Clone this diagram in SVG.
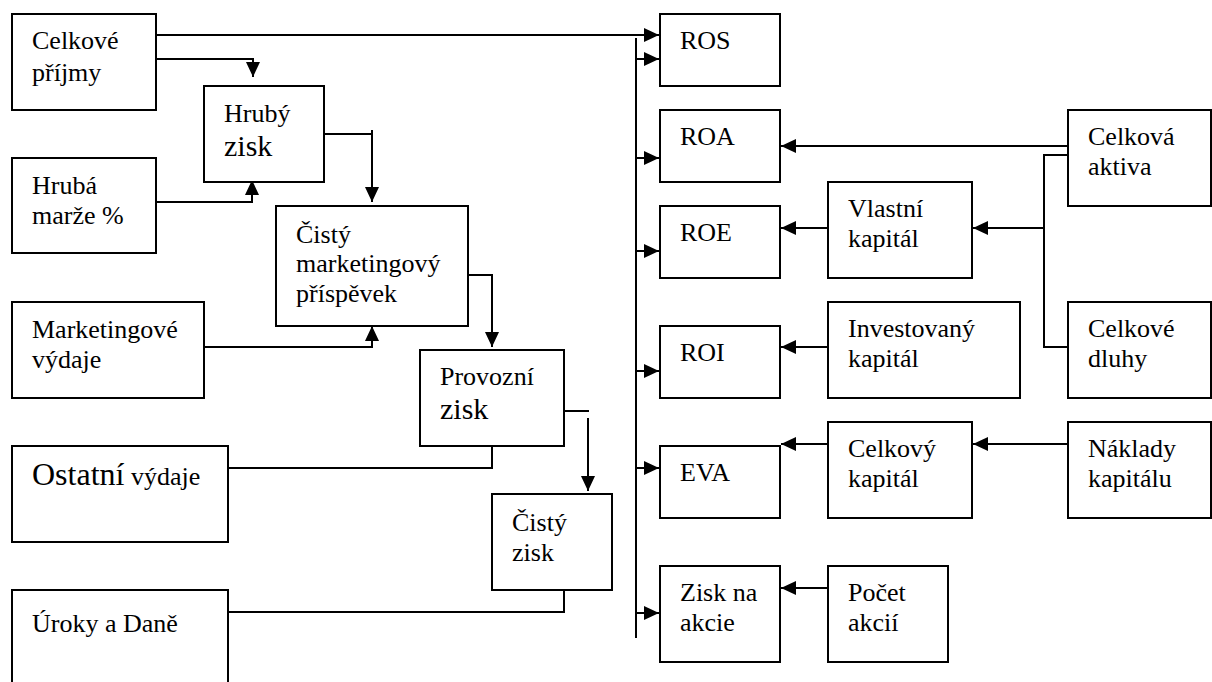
<svg xmlns="http://www.w3.org/2000/svg" width="1212" height="682" viewBox="0 0 1212 682">
<style>
rect{fill:#fff;stroke:#000;stroke-width:2}
text{font-family:'Liberation Serif','Times New Roman','DejaVu Serif',serif;font-size:26px;fill:#000}
.big{font-size:30px}
.os{font-size:32px}
#connectors path{fill:none;stroke:#000;stroke-width:2}
.a{marker-end:url(#arr)}
</style>
<defs>
<marker id="arr" markerUnits="userSpaceOnUse" markerWidth="16" markerHeight="14" refX="15" refY="7" orient="auto">
<path d="M0,0 L15,7 L0,14 z" fill="#000"/>
</marker>
</defs>
<rect x="0" y="0" width="1212" height="682" style="stroke:none"/>
<g id="connectors">
<path class="a" d="M156,35 H659"/>
<path class="a" d="M156,59 H253 V77"/>
<path class="a" d="M156,202 H252 V180"/>
<path d="M324,134 H372"/>
<path class="a" d="M372,130 V202"/>
<path class="a" d="M204,347 H372 V326"/>
<path class="a" d="M468,275 H492 V347"/>
<path d="M564,411 H589"/>
<path class="a" d="M588,418 V491"/>
<path d="M228,468 H492 V446"/>
<path d="M228,612 H564 V590"/>
<path d="M636,38 V638"/>
<path class="a" d="M636,59 H659"/>
<path class="a" d="M636,158 H659"/>
<path class="a" d="M636,251 H659"/>
<path class="a" d="M636,371 H659"/>
<path class="a" d="M636,468 H659"/>
<path class="a" d="M636,613 H659"/>
<path class="a" d="M1068,146 H781"/>
<path d="M1068,155 H1044 V347 H1068"/>
<path class="a" d="M1044,228 H973"/>
<path class="a" d="M828,228 H781"/>
<path class="a" d="M828,347 H781"/>
<path class="a" d="M828,444 H781"/>
<path class="a" d="M1068,444 H973"/>
<path class="a" d="M828,588 H781"/>
</g>
<g font-family="Liberation Serif, Times New Roman, DejaVu Serif, serif">
<g id="celkove-prijmy"><rect x="12" y="14" width="144" height="96"/><text x="32" y="49">Celkové</text><text x="32" y="81">příjmy</text></g>
<g id="hruby-zisk"><rect x="204" y="86" width="120" height="96"/><text x="224" y="122">Hrubý</text><text x="224" y="156" class="big">zisk</text></g>
<g id="hruba-marze"><rect x="12" y="158" width="144" height="95"/><text x="32" y="194">Hrubá</text><text x="32" y="224">marže %</text></g>
<g id="cisty-mp"><rect x="276" y="206" width="192" height="120"/><text x="296" y="243">Čistý</text><text x="296" y="272">marketingový</text><text x="296" y="302">příspěvek</text></g>
<g id="marketingove-vydaje"><rect x="12" y="302" width="192" height="96"/><text x="32" y="338">Marketingové</text><text x="32" y="368">výdaje</text></g>
<g id="provozni-zisk"><rect x="420" y="350" width="144" height="96"/><text x="440" y="385">Provozní</text><text x="440" y="419" class="big">zisk</text></g>
<g id="ostatni-vydaje"><rect x="12" y="446" width="216" height="96"/><text x="32" y="485"><tspan class="os">Ostatní</tspan> výdaje</text></g>
<g id="cisty-zisk"><rect x="492" y="494" width="120" height="96"/><text x="512" y="531">Čistý</text><text x="512" y="561">zisk</text></g>
<g id="uroky-dane"><rect x="12" y="590" width="216" height="100"/><text x="32" y="632">Úroky a Daně</text></g>
<g id="ros"><rect x="660" y="14" width="120" height="72"/><text x="680" y="49">ROS</text></g>
<g id="roa"><rect x="660" y="110" width="120" height="72"/><text x="680" y="145">ROA</text></g>
<g id="roe"><rect x="660" y="206" width="120" height="72"/><text x="680" y="241">ROE</text></g>
<g id="roi"><rect x="660" y="326" width="120" height="72"/><text x="680" y="361">ROI</text></g>
<g id="eva"><rect x="660" y="446" width="120" height="72"/><text x="680" y="481">EVA</text></g>
<g id="zisk-na-akcie"><rect x="660" y="566" width="120" height="96"/><text x="680" y="601">Zisk na</text><text x="680" y="631">akcie</text></g>
<g id="vlastni-kapital"><rect x="828" y="182" width="144" height="96"/><text x="848" y="217">Vlastní</text><text x="848" y="247">kapitál</text></g>
<g id="investovany-kapital"><rect x="828" y="302" width="192" height="96"/><text x="848" y="337">Investovaný</text><text x="848" y="367">kapitál</text></g>
<g id="celkovy-kapital"><rect x="828" y="422" width="144" height="96"/><text x="848" y="457">Celkový</text><text x="848" y="487">kapitál</text></g>
<g id="pocet-akcii"><rect x="828" y="566" width="120" height="96"/><text x="848" y="601">Počet</text><text x="848" y="631">akcií</text></g>
<g id="celkova-aktiva"><rect x="1068" y="110" width="143" height="96"/><text x="1088" y="145">Celková</text><text x="1088" y="175">aktiva</text></g>
<g id="celkove-dluhy"><rect x="1068" y="302" width="143" height="96"/><text x="1088" y="337">Celkové</text><text x="1088" y="367">dluhy</text></g>
<g id="naklady-kapitalu"><rect x="1068" y="422" width="143" height="96"/><text x="1088" y="457">Náklady</text><text x="1088" y="487">kapitálu</text></g>
</g>
</svg>
